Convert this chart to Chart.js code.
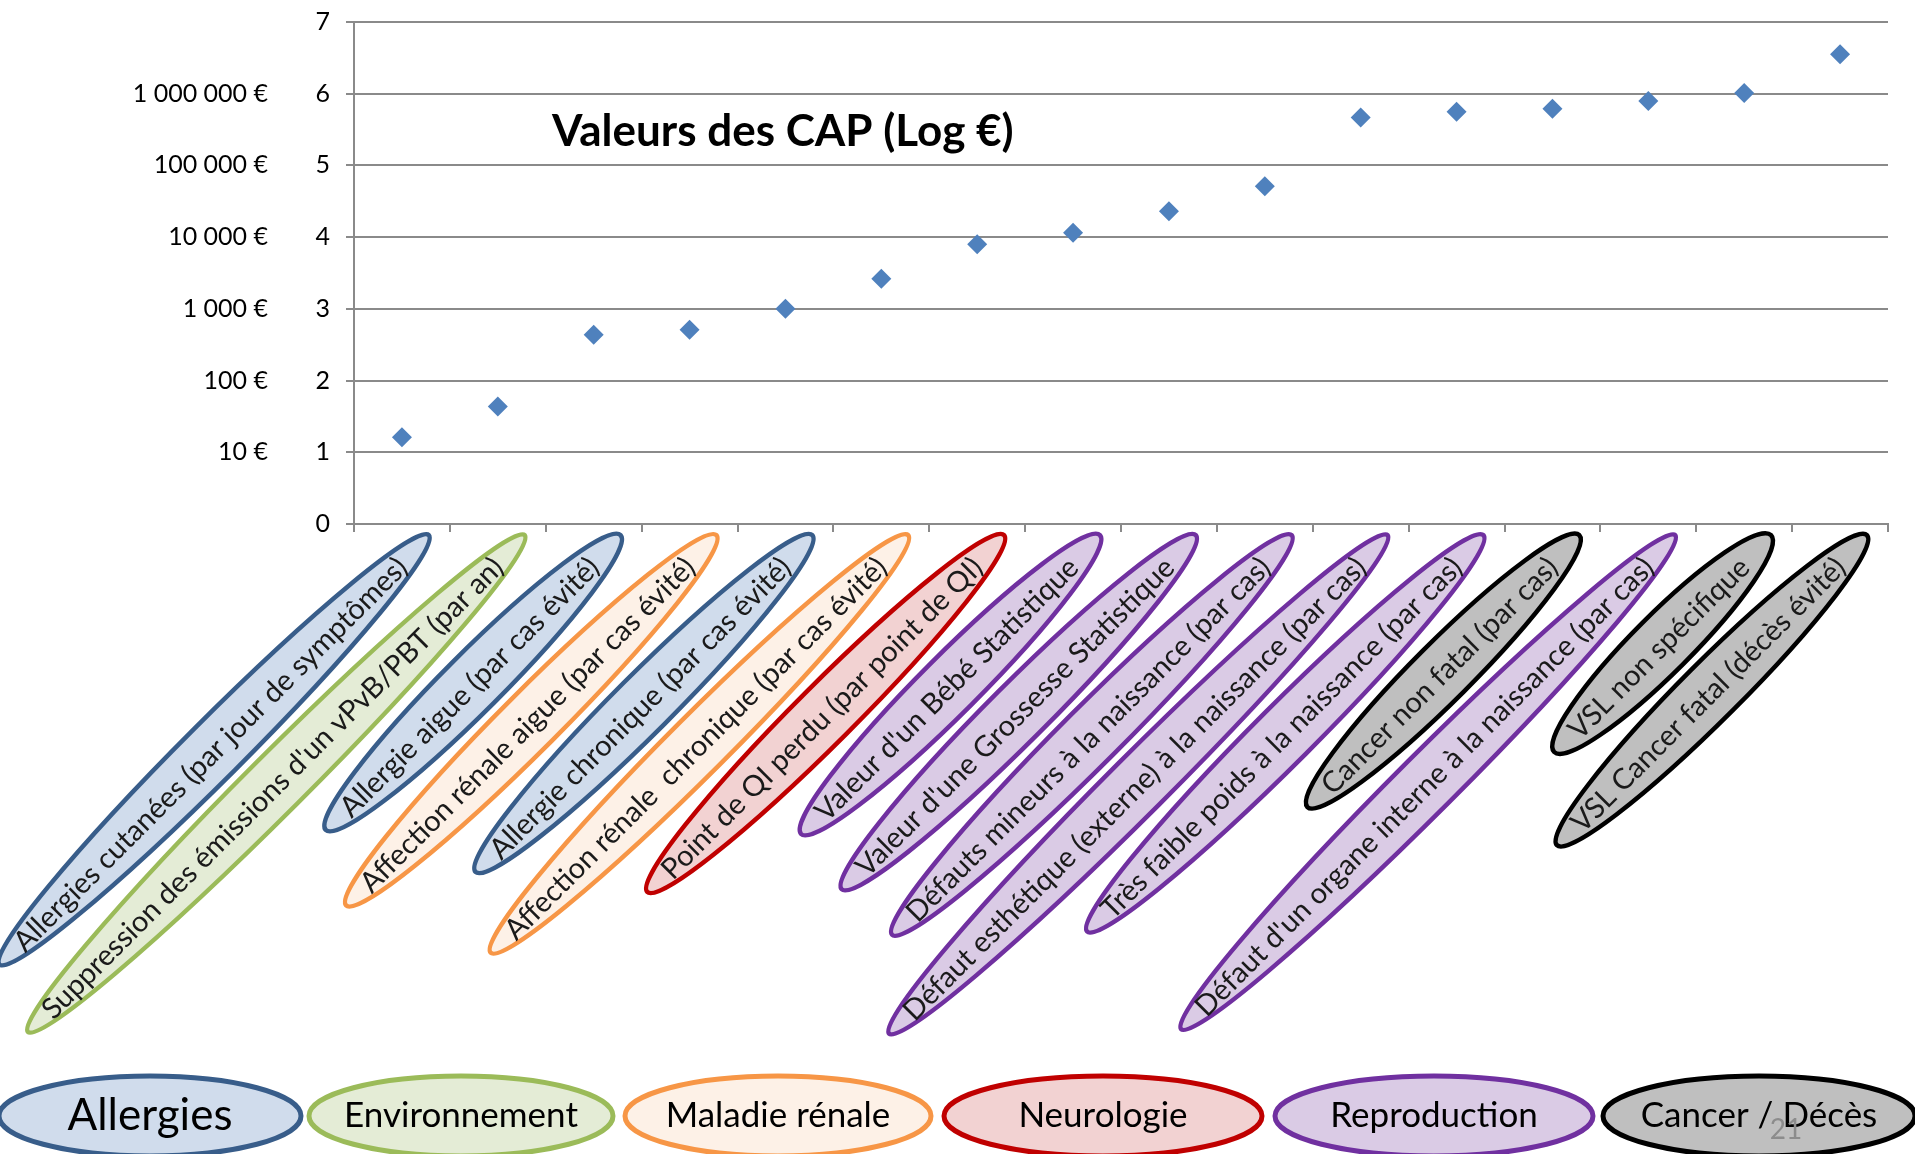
<!DOCTYPE html>
<html>
<head>
<meta charset="utf-8">
<script src="https://cdn.jsdelivr.net/npm/chart.js@4/dist/chart.umd.min.js"></script>
<style>
  html, body { margin: 0; padding: 0; background: #fff; }
</style>
</head>
<body>
<canvas id="graph" width="1915" height="1154"></canvas>
<script>
const ctx = document.getElementById("graph");

const labels = [
  "Allergies cutanées (par jour de symptômes)",
  "Suppression des émissions d'un vPvB/PBT (par an)",
  "Allergie aigue (par cas évité)",
  "Affection rénale aigue (par cas évité)",
  "Allergie chronique (par cas évité)",
  "Affection rénale  chronique (par cas évité)",
  "Point de QI perdu (par point de QI)",
  "Valeur d'un Bébé Statistique",
  "Valeur d'une Grossesse Statistique",
  "Défauts mineurs à la naissance (par cas)",
  "Défaut esthétique (externe) à la naissance (par cas)",
  "Très faible poids à la naissance (par cas)",
  "Cancer non fatal (par cas)",
  "Défaut d'un organe interne à la naissance (par cas)",
  "VSL non spécifique",
  "VSL Cancer fatal (décès évité)",
];

// log10 of the willingness-to-pay value in euros
const logValues = [
  1.21, 1.64, 2.64, 2.71, 3.0, 3.42, 3.9, 4.06, 4.36, 4.71, 5.67, 5.75, 5.79,
  5.9, 6.01, 6.55,
];

const groups = [
  "Allergies",
  "Environnement",
  "Maladie rénale",
  "Neurologie",
  "Reproduction",
  "Cancer / Décès",
];
const groupOf = [0, 1, 0, 2, 0, 2, 3, 4, 4, 4, 4, 4, 5, 4, 5, 5];

const groupFill = ["#d0dcec", "#e4ecd6", "#fdf1e7", "#f2d2d2", "#dacbe5", "#bfbfbf"];
const groupLine = ["#385d8a", "#9bbb59", "#f79646", "#c00000", "#7030a0", "#000000"];

const euroTicks = ["", "10 €", "100 €", "1 000 €", "10 000 €", "100 000 €", "1 000 000 €", ""];

const title = "Valeurs des CAP (Log €)";
const pageNumber = "21";

// bottom key layout (slide shapes)
const keyCenters = [150, 461, 778, 1103, 1434, 1759];
const keyHalfWidths = [151, 152, 153, 159, 159, 156];

const fontFamily = "Lato, 'Open Sans', sans-serif";
const gridGrey = "#8a8a8a";

const slideDecor = {
  id: "slideDecor",
  afterDraw(chart) {
    const c = chart.ctx;
    const xs = chart.scales.x;
    const area = chart.chartArea;
    c.save();

    // title inside the plot
    c.font = "bold 44px " + fontFamily;
    c.fillStyle = "#000";
    c.textAlign = "left";
    c.textBaseline = "middle";
    c.fillText(title, area.left + 198, area.top + 110);

    // rotated category labels in coloured ellipses
    c.font = "29px " + fontFamily;
    labels.forEach((lab, i) => {
      const g = groupOf[i];
      const px = xs.getPixelForValue(i);
      const py = xs.top + 38;
      const w = c.measureText(lab).width;
      c.save();
      c.translate(px, py);
      c.rotate(-Math.PI / 4);
      c.beginPath();
      c.ellipse(-w / 2 + 6, 0, w / 2 + 32, 29, 0, 0, Math.PI * 2);
      c.fillStyle = groupFill[g];
      c.fill();
      c.lineWidth = 4.5;
      c.strokeStyle = groupLine[g];
      c.stroke();
      c.fillStyle = "#1a1a1a";
      c.textAlign = "right";
      c.textBaseline = "middle";
      c.fillText(lab, 0, 1);
      c.restore();
    });

    // group key along the bottom
    const cy = chart.height - 38;
    groups.forEach((name, i) => {
      const cx = keyCenters[i];
      c.beginPath();
      c.ellipse(cx, cy, keyHalfWidths[i], 40, 0, 0, Math.PI * 2);
      c.fillStyle = groupFill[i];
      c.fill();
      c.lineWidth = 5;
      c.strokeStyle = groupLine[i];
      c.stroke();
      c.fillStyle = "#000";
      c.textAlign = "center";
      c.textBaseline = "middle";
      c.font = (i === 0 ? "44px " : "35px ") + fontFamily;
      c.fillText(name, cx, cy);
    });

    c.font = "28px " + fontFamily;
    c.fillStyle = "#8c8c8c";
    c.textAlign = "center";
    c.fillText(pageNumber, 1786, cy + 14);

    c.restore();
  },
};

const fixYWidth = (w) => (scale) => {
  scale.width = w;
  scale.paddingTop = 0;
  scale.paddingBottom = 0;
};

new Chart(ctx, {
  type: "line",
  data: {
    labels: labels,
    datasets: [
      {
        data: logValues,
        showLine: false,
        pointStyle: "rectRot",
        pointRadius: 10,
        pointHoverRadius: 10,
        pointBackgroundColor: "#4f81bd",
        pointBorderWidth: 0,
      },
    ],
  },
  options: {
    responsive: false,
    animation: false,
    events: [],
    layout: {
      padding: { top: 22, right: 27, left: 0, bottom: 0 },
    },
    plugins: {
      legend: { display: false },
      tooltip: { enabled: false },
    },
    scales: {
      x: {
        type: "category",
        offset: true,
        afterFit: (scale) => {
          scale.height = 630;
          scale.paddingLeft = 0;
          scale.paddingRight = 0;
        },
        ticks: { display: false },
        grid: {
          offset: true,
          drawOnChartArea: false,
          tickLength: 8,
          color: gridGrey,
          lineWidth: 2,
        },
        border: { color: gridGrey, width: 2 },
      },
      y: {
        min: 0,
        max: 7,
        weight: 0,
        afterFit: fixYWidth(70),
        ticks: {
          stepSize: 1,
          padding: 16,
          color: "#000",
          font: { family: fontFamily, size: 25 },
        },
        grid: { color: gridGrey, lineWidth: 2, tickLength: 8 },
        border: { color: gridGrey, width: 2 },
      },
      y2: {
        position: "left",
        min: 0,
        max: 7,
        weight: 1,
        afterFit: fixYWidth(284),
        ticks: {
          stepSize: 1,
          padding: 16,
          color: "#000",
          font: { family: fontFamily, size: 25 },
          callback: function (value) {
            return euroTicks[value];
          },
        },
        grid: { display: false, drawTicks: false },
        border: { display: false },
      },
    },
  },
  plugins: [slideDecor],
});
</script>
</body>
</html>
